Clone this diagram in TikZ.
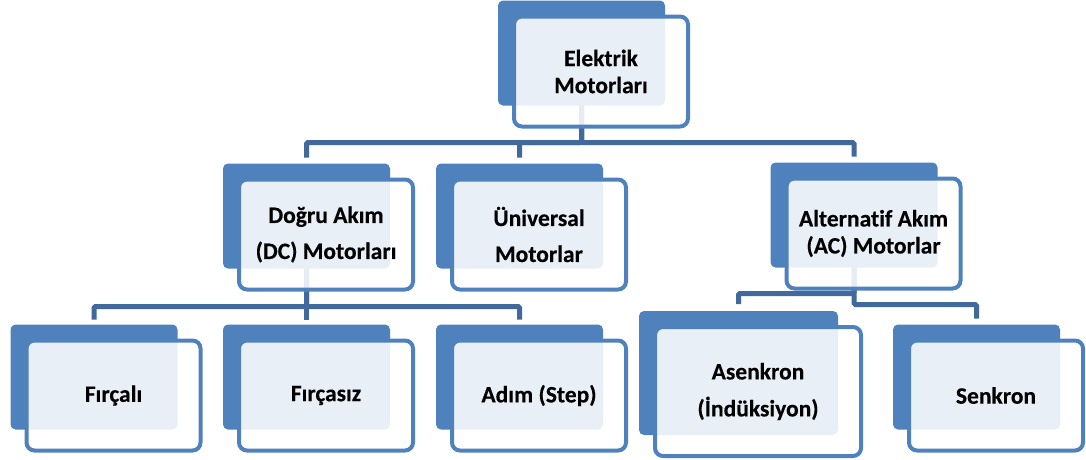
\documentclass[tikz,border=0pt]{standalone}
\usepackage{fontspec}
\setmainfont{Carlito}[Ligatures=NoCommon,BoldFeatures={FakeBold=0.3}]
\usetikzlibrary{calc,fit,backgrounds}
\definecolor{boxblue}{RGB}{79,129,189}
\definecolor{linkblue}{RGB}{65,105,155}
\begin{document}
\begin{tikzpicture}[x=1pt,y=1pt,
	front/.style={draw=boxblue,line width=4pt,fill=white,fill opacity=0.88,text opacity=1,
		rounded corners=8pt,minimum width=174pt,minimum height=110pt,outer sep=0pt,inner sep=2pt,
		align=center,font=\fontsize{23.5}{27}\selectfont\bfseries},
	back/.style={fill=boxblue,rounded corners=5pt,inner sep=0pt,outer sep=0pt},
	link/.style={draw=linkblue,line width=5pt,rounded corners=1.5pt}]
			\useasboundingbox (0,0) rectangle (1086,-459);
			\node[front] (elek) at (601,-71.5) {Elektrik\\Motorları};
			\node[front] (dc) at (326,-234.5) {Doğru Akım\\[9pt](DC) Motorları};
			\node[front] (uni) at (539,-234.5) {Üniversal\\[9pt]Motorlar};
			\node[front] (ac) at (873.5,-233.5) {Alternatif Akım\\(AC) Motorlar};
			\node[front] (fircali) at (113.5,-395.5) {Fırçalı};
			\node[front] (fircasiz) at (326,-395.5) {Fırçasız};
			\node[front] (adim) at (539,-395.5) {Adım (Step)};
			\node[front,minimum width=206pt,minimum height=129pt] (asenkron) at (758,-391.5) {Asenkron\\[10pt](İndüksiyon)};
			\node[front] (senkron) at (996,-395.5) {Senkron};
			\begin{pgfonlayer}{background}
				\foreach \n in {elek,dc,uni,ac,fircali,fircasiz,adim,asenkron,senkron}
					\node[back,fit={($(\n.north west)+(-16,16)$) ($(\n.south east)+(-23,21)$)}] (\n b) {};
				\draw[link,shorten >=6pt] (elekb.south) -- ++(0,-37) -| (dcb.north);
				\draw[link,shorten >=6pt] (elekb.south) -- ++(0,-37) -| (unib.north);
				\draw[link,shorten >=6pt] (elekb.south) -- ++(0,-37) -| (acb.north);
				\draw[link,shorten >=5pt] (dcb.south) -- ++(0,-38) -| (fircalib.north);
				\draw[link,shorten >=5pt] (dcb.south) -- ++(0,-38) -| (fircasizb.north);
				\draw[link,shorten >=5pt] (dcb.south) -- ++(0,-38) -| (adimb.north);
				\draw[link,shorten >=7pt] (acb.south) -- ++(0,-26) -| (asenkronb.north);
				\draw[link,shorten >=6pt] (acb.south) -- ++(0,-37) -| (senkronb.north);
			\end{pgfonlayer}
		\end{tikzpicture}
\end{document}
